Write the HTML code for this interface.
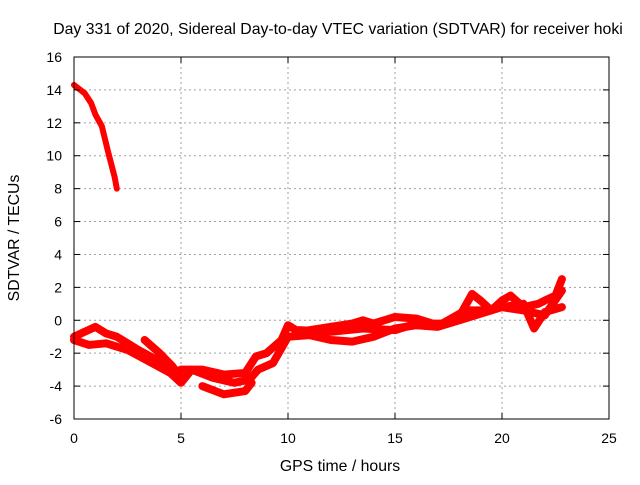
<!DOCTYPE html>
<html><head><meta charset="utf-8"><style>
body{margin:0;background:#fff}
text{font-family:"Liberation Sans",sans-serif;font-size:14px;fill:#000}
.big{font-size:15.8px}
</style></head><body>
<svg id="chart" width="640" height="480" xmlns="http://www.w3.org/2000/svg">
<rect width="640" height="480" fill="#fff"/>
<g id="grid"></g>
<g id="series"></g>
<rect x="74" y="57" width="535" height="362" fill="none" stroke="#000" stroke-width="1"/>
<g id="ticks"></g>
<text class="big" x="338" y="34" text-anchor="middle">Day 331 of 2020, Sidereal Day-to-day VTEC variation (SDTVAR) for receiver hoki</text>
<text class="big" x="340" y="471" text-anchor="middle">GPS time / hours</text>
<text class="big" x="0" y="0" transform="translate(19,238) rotate(-90)" text-anchor="middle">SDTVAR / TECUs</text>
</svg>
<script>
const xTicks=[0,5,10,15,20,25];
const yTicks=[-6,-4,-2,0,2,4,6,8,10,12,14,16];
const traceTop=[[0,14.3],[0.5,13.8],[0.8,13.2],[1,12.5],[1.3,11.8],[1.6,10.2],[1.9,8.7],[2,8]];
const traceA=[[0,-1],[0.5,-0.7],[1,-0.4],[1.5,-0.8],[2,-1],[3,-1.8],[4,-2.5],[4.7,-3.2],[5,-3],[6,-3],[7,-3.3],[8,-3.2],[8.5,-2.2],[9,-2],[9.7,-1.2],[10,-0.3],[10.5,-0.7],[11,-0.6],[12,-0.4],[13,-0.2],[13.5,0],[14,-0.2],[15,0.2],[16,0.1],[17,-0.3],[18,0.2],[18.6,1.6],[19,1.2],[19.5,0.6],[20,1.2],[20.4,1.5],[21,0.8],[21.7,1],[22,1.2],[22.5,1.5],[22.8,2.5]];
const traceB=[[0,-1.2],[0.7,-1.5],[1.5,-1.4],[2.5,-1.8],[3.5,-2.5],[4.5,-3.2],[5,-3.8],[5.5,-3],[6.5,-3.5],[7.5,-3.8],[8.2,-3.6],[8.6,-3],[9.3,-2.6],[10,-1],[11,-0.9],[12,-1.2],[13,-1.3],[14,-1.0],[15,-0.5],[16,-0.3],[17,-0.4],[18,0],[19,0.4],[20,0.8],[21,1.0],[21.5,-0.5],[22,0.5],[22.8,0.8]];
const traceC=[[3.3,-1.2],[4,-2],[4.6,-2.8],[5,-3.5]];
const traceD=[[6,-4],[7,-4.5],[8,-4.3],[8.3,-3.8]];
const traceE=[[10.5,-0.6],[12,-0.7],[13.5,-0.5],[15,-0.6],[16,-0.2],[17.2,-0.2],[18.3,0.6],[19,0.6],[20,0.8],[21,0.6],[22,0.3],[22.8,1.8]];
const X=v=>74+v*(535/25), Y=v=>419-(v+6)*(362/22);
const NS="http://www.w3.org/2000/svg";
const grid=document.getElementById('grid'),ticks=document.getElementById('ticks'),ser=document.getElementById('series');
function mk(t,a,p){const e=document.createElementNS(NS,t);for(const k in a)e.setAttribute(k,a[k]);p.appendChild(e);return e;}
xTicks.forEach(v=>{const x=X(v);
 if(v>0&&v<25){const g=mk('line',{x1:x,x2:x,y1:57,y2:419,stroke:'#a0a0a0','stroke-dasharray':'2,3'},grid);
 
 }
 mk('line',{x1:x,x2:x,y1:419,y2:413,stroke:'#000'},ticks);mk('line',{x1:x,x2:x,y1:57,y2:63,stroke:'#000'},ticks);
 const t=mk('text',{x:x,y:443,'text-anchor':'middle'},ticks);t.textContent=v;
 
 });
yTicks.forEach(v=>{const y=Y(v);
 if(v>-6&&v<16){const g=mk('line',{x1:74,x2:609,y1:y,y2:y,stroke:'#a0a0a0','stroke-dasharray':'2,3'},grid);
 
 }
 mk('line',{x1:74,x2:80,y1:y,y2:y,stroke:'#000'},ticks);mk('line',{x1:609,x2:603,y1:y,y2:y,stroke:'#000'},ticks);
 const t=mk('text',{x:62,y:y+5,'text-anchor':'end'},ticks);t.textContent=v;
 
 });
[traceTop,traceA,traceB,traceC,traceD,traceE].forEach((tr,i)=>{
 const p=mk('polyline',{points:tr.map(d=>X(d[0])+','+Y(d[1])).join(' '),fill:'none',stroke:'#f00','stroke-width':i==0?6:8,'stroke-linejoin':'round','stroke-linecap':'round'},ser);
 
 
});
</script>
</body></html>
